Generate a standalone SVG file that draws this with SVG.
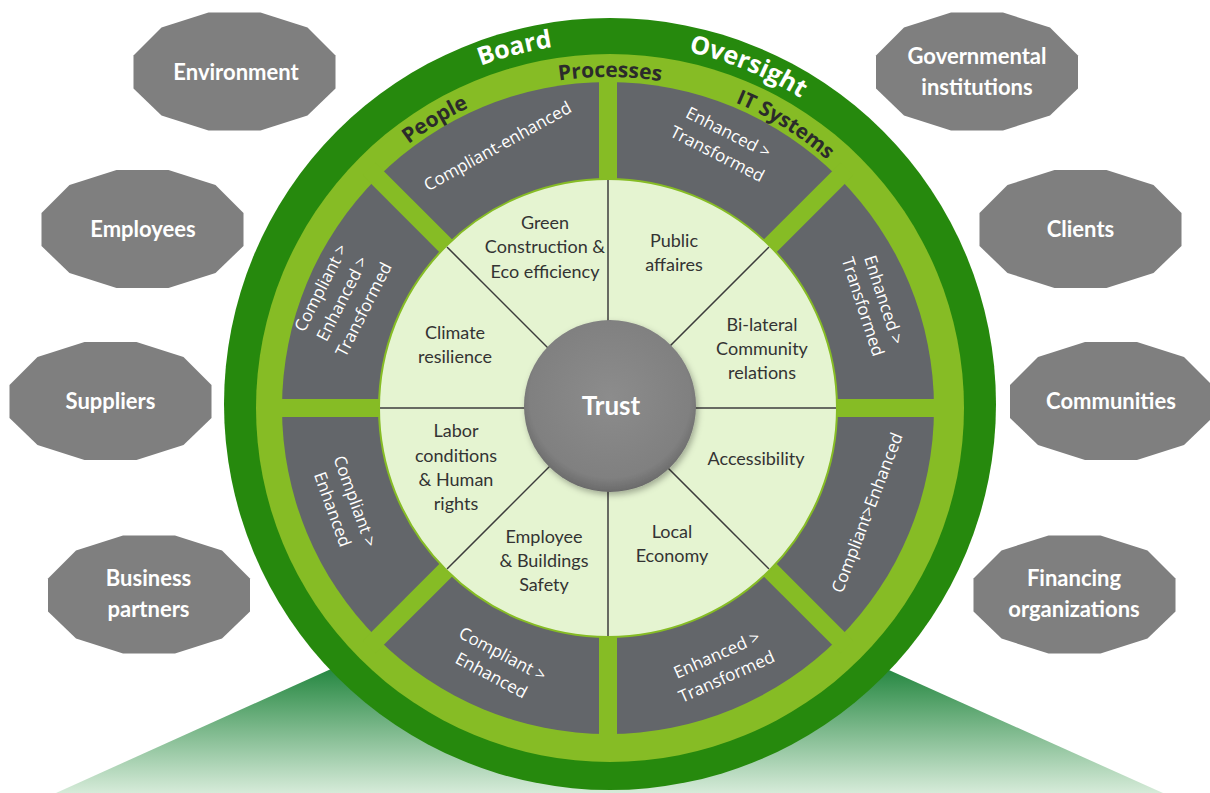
<svg xmlns="http://www.w3.org/2000/svg" xmlns:xlink="http://www.w3.org/1999/xlink" width="1210" height="793" viewBox="0 0 1210 793">
<defs>
<style>
.stk{fill:#7f7f7f}
.stkt{font-family:Lato,"Liberation Sans",sans-serif;font-weight:bold;font-size:22px;fill:#ffffff;text-anchor:middle}
.pale{font-family:Lato,"Liberation Sans",sans-serif;font-size:18px;fill:#333333;text-anchor:middle}
.seg{font-family:"Open Sans","Liberation Sans",sans-serif;font-size:17px;fill:#ffffff;text-anchor:middle}
.band1{font-family:"Open Sans","Liberation Sans",sans-serif;font-weight:bold;font-size:25px;fill:#ffffff}
.band2{font-family:"Open Sans","Liberation Sans",sans-serif;font-weight:bold;font-size:21px;fill:#2b2b2b}
.gap{stroke:#86bc25;stroke-width:18}
.div{stroke:#3c3c3c;stroke-width:1.5}
</style>
<polygon id="dodec" points="-26,-59 26,-59 73,-44 101,-16 101,17 73,44 26,59 -26,59 -73,44 -101,17 -101,-16 -73,-44"/>
<linearGradient id="tri" x1="0" y1="672" x2="0" y2="793" gradientUnits="userSpaceOnUse">
<stop offset="0" stop-color="#2a8a45"/>
<stop offset="1" stop-color="#d6ebd9"/>
</linearGradient>
<radialGradient id="ball" cx="50%" cy="45%" r="55%">
<stop offset="0" stop-color="#8c8c8c"/>
<stop offset="0.85" stop-color="#808080"/>
<stop offset="1" stop-color="#6a6a6a"/>
</radialGradient>
<filter id="sh" x="-20%" y="-20%" width="140%" height="140%">
<feDropShadow dx="2" dy="3" stdDeviation="3" flood-color="#000" flood-opacity="0.3"/>
</filter>
<path id="arcOuter" d="M 243,408 A 365 365 0 0 1 973,408"/>
<path id="arcInner" d="M 277,408 A 331 331 0 0 1 939,408"/>
</defs>

<g id="base">
<polygon points="608,544 1163,793 56,793" fill="url(#tri)"/>
</g>

<g id="wheel">
<circle cx="610" cy="404" r="386" fill="#26890d"/>
<circle cx="610" cy="408" r="354" fill="#86bc25"/>
<circle cx="608" cy="408" r="326" fill="#63666a"/>
<g id="gaps">
<line class="gap" x1="608" y1="408" x2="608" y2="70"/>
<line class="gap" x1="608" y1="408" x2="608" y2="746"/>
<line class="gap" x1="608" y1="408" x2="270" y2="408"/>
<line class="gap" x1="608" y1="408" x2="946" y2="408"/>
<line class="gap" x1="608" y1="408" x2="369" y2="169"/>
<line class="gap" x1="608" y1="408" x2="847" y2="169"/>
<line class="gap" x1="608" y1="408" x2="369" y2="647"/>
<line class="gap" x1="608" y1="408" x2="847" y2="647"/>
</g>
<circle cx="608" cy="408" r="229" fill="#e5f4d1" stroke="#86bc25" stroke-width="2"/>
</g>

<g id="connectors">
<line class="div" x1="608" y1="408" x2="608" y2="180"/>
<line class="div" x1="608" y1="408" x2="608" y2="636"/>
<line class="div" x1="608" y1="408" x2="380" y2="408"/>
<line class="div" x1="608" y1="408" x2="836" y2="408"/>
<line class="div" x1="608" y1="408" x2="447" y2="247"/>
<line class="div" x1="608" y1="408" x2="769" y2="247"/>
<line class="div" x1="608" y1="408" x2="447" y2="569"/>
<line class="div" x1="608" y1="408" x2="769" y2="569"/>
</g>

<g id="band-labels">
<text class="band1"><textPath href="#arcOuter" startOffset="41.9%" text-anchor="middle">Board</textPath></text>
<text class="band1"><textPath href="#arcOuter" startOffset="62.4%" text-anchor="middle">Oversight</textPath></text>
<text class="band2"><textPath href="#arcInner" startOffset="32.8%" text-anchor="middle">People</textPath></text>
<text class="band2"><textPath href="#arcInner" startOffset="50.2%" text-anchor="middle">Processes</textPath></text>
<text class="band2" style="font-size:20.5px"><textPath href="#arcInner" startOffset="67.8%" text-anchor="middle">IT Systems</textPath></text>
</g>

<g id="segments">
<g id="seg-top-left" transform="translate(498,147) rotate(-29)"><text class="seg" x="0" y="5">Compliant-enhanced</text></g>
<g id="seg-top-right" transform="translate(722.5,144) rotate(27)"><text class="seg" x="0" y="-7">Enhanced &gt;</text><text class="seg" x="0" y="17">Transformed</text></g>
<g id="seg-right-upper" transform="translate(872.5,303.5) rotate(72)"><text class="seg" x="0" y="-6">Enhanced &gt;</text><text class="seg" x="0" y="16">Transformed</text></g>
<g id="seg-right-lower" transform="translate(868,513) rotate(-69)"><text class="seg" x="0" y="5">Compliant&gt;Enhanced</text></g>
<g id="seg-bottom-right" transform="translate(722,666.5) rotate(-24)"><text class="seg" x="0" y="-7">Enhanced &gt;</text><text class="seg" x="0" y="17">Transformed</text></g>
<g id="seg-bottom-left" transform="translate(496.5,665.5) rotate(28)"><text class="seg" x="0" y="-7">Compliant &gt;</text><text class="seg" x="0" y="17">Enhanced</text></g>
<g id="seg-left-lower" transform="translate(343,505.5) rotate(70)"><text class="seg" x="0" y="-7">Compliant &gt;</text><text class="seg" x="0" y="17">Enhanced</text></g>
<g id="seg-left-upper" transform="translate(343,299) rotate(-63)"><text class="seg" x="0" y="-19">Compliant &gt;</text><text class="seg" x="0" y="5">Enhanced &gt;</text><text class="seg" x="0" y="29">Transformed</text></g>
</g>

<g id="topics">
<g id="t-green"><text class="pale" x="545" y="229">Green</text><text class="pale" x="545" y="253">Construction &amp;</text><text class="pale" x="545" y="278">Eco efficiency</text></g>
<g id="t-public"><text class="pale" x="674" y="247">Public</text><text class="pale" x="674" y="271">affaires</text></g>
<g id="t-bilateral"><text class="pale" x="762" y="331">Bi-lateral</text><text class="pale" x="762" y="355">Community</text><text class="pale" x="762" y="379">relations</text></g>
<g id="t-access"><text class="pale" x="756" y="465">Accessibility</text></g>
<g id="t-local"><text class="pale" x="672" y="538">Local</text><text class="pale" x="672" y="562">Economy</text></g>
<g id="t-safety"><text class="pale" x="544" y="543">Employee</text><text class="pale" x="544" y="567">&amp; Buildings</text><text class="pale" x="544" y="591">Safety</text></g>
<g id="t-labor"><text class="pale" x="456" y="437">Labor</text><text class="pale" x="456" y="462">conditions</text><text class="pale" x="456" y="486">&amp; Human</text><text class="pale" x="456" y="510">rights</text></g>
<g id="t-climate"><text class="pale" x="455" y="339">Climate</text><text class="pale" x="455" y="363">resilience</text></g>
</g>

<g id="trust">
<circle cx="610" cy="406" r="86" fill="url(#ball)" filter="url(#sh)"/>
<text x="611" y="415" font-family="Lato,'Liberation Sans',sans-serif" font-weight="bold" font-size="26" fill="#ffffff" text-anchor="middle">Trust</text>
</g>

<g id="node-environment"><use href="#dodec" class="stk" x="234.5" y="71.5"/><text class="stkt" x="236" y="80">Environment</text></g>
<g id="node-governmental"><use href="#dodec" class="stk" x="977" y="71.5"/><text class="stkt" x="977" y="64">Governmental</text><text class="stkt" x="977" y="95">institutions</text></g>
<g id="node-employees"><use href="#dodec" class="stk" x="142.5" y="229"/><text class="stkt" x="143" y="237">Employees</text></g>
<g id="node-clients"><use href="#dodec" class="stk" x="1080.5" y="229"/><text class="stkt" x="1080.5" y="237">Clients</text></g>
<g id="node-suppliers"><use href="#dodec" class="stk" x="110.5" y="401"/><text class="stkt" x="110.5" y="409">Suppliers</text></g>
<g id="node-communities"><use href="#dodec" class="stk" x="1111" y="401"/><text class="stkt" x="1111" y="409">Communities</text></g>
<g id="node-business"><use href="#dodec" class="stk" x="149" y="594.5"/><text class="stkt" x="148.5" y="586">Business</text><text class="stkt" x="148.5" y="617">partners</text></g>
<g id="node-financing"><use href="#dodec" class="stk" x="1074.5" y="594.5"/><text class="stkt" x="1074" y="586">Financing</text><text class="stkt" x="1074" y="617">organizations</text></g>
</svg>
